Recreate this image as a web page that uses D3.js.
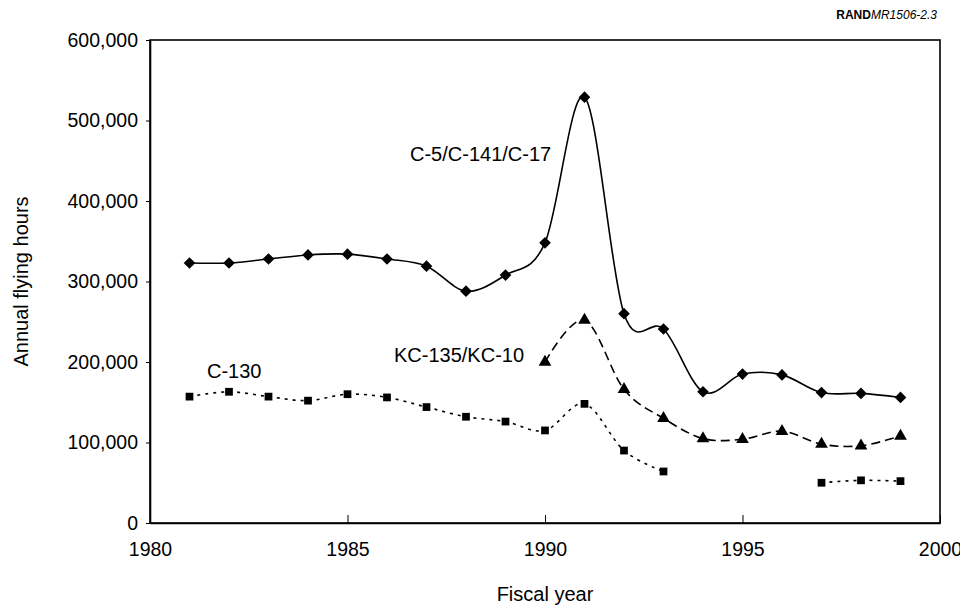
<!DOCTYPE html>
<html>
<head>
<meta charset="utf-8">
<script src="https://cdn.jsdelivr.net/npm/d3@7"></script>
<style>
  body { margin: 0; background: #fff; }
  svg text { font-family: Arial, "Liberation Sans", sans-serif; fill: #000; }
</style>
</head>
<body>
<svg width="960" height="607"></svg>
<script>
// fiscal years 1981..1999
var years = [1981,1982,1983,1984,1985,1986,1987,1988,1989,1990,
             1991,1992,1993,1994,1995,1996,1997,1998,1999];
var c5  = [323000,323000,328000,333000,334000,328000,319000,288000,308000,348000,
           529000,260000,241000,163000,185000,184000,162000,161000,156000];
var kc  = [null,null,null,null,null,null,null,null,null,200000,
           252000,166000,130000,105000,104000,114000,98000,96000,108000];
var c130 = [157000,163000,157000,152000,160000,156000,144000,132000,126000,115000,
            148000,90000,64000,null,null,null,50000,53000,52000];
var yTicks = [0,100000,200000,300000,400000,500000,600000];
var xTicks = [1980,1985,1990,1995,2000];

var svg = d3.select("svg"),
    pL = 150, pR = 940, pT = 40, pB = 523;

var x = d3.scaleLinear().domain([1980, 2000]).range([pL, pR]);
var y = d3.scaleLinear().domain([0, 600000]).range([pB, pT]);

// frame
svg.append("rect")
    .attr("x", pL).attr("y", pT)
    .attr("width", pR - pL).attr("height", pB - pT)
    .attr("fill", "none").attr("stroke", "#000").attr("stroke-width", 1.6);

var yAxis = svg.append("g")
    .attr("transform", "translate(" + pL + ",0)")
    .call(d3.axisLeft(y).tickValues(yTicks).tickFormat(d3.format(","))
        .tickSize(4).tickSizeOuter(0).tickPadding(8));
var xAxis = svg.append("g")
    .attr("transform", "translate(0," + pB + ")")
    .call(d3.axisBottom(x).tickValues(xTicks).tickFormat(d3.format("d"))
        .tickSize(-8).tickSizeOuter(0).tickPadding(19));
[yAxis, xAxis].forEach(function(g) {
  g.select(".domain").attr("stroke-width", 1.6);
  g.selectAll(".tick line").attr("stroke-width", 1);
  g.selectAll("text").style("font-size", "19.5px");
});

var curve = d3.curveCatmullRom.alpha(0);
function lineFor(vals) {
  return d3.line()
    .defined(function(d, i) { return vals[i] != null; })
    .x(function(d, i) { return x(years[i]); })
    .y(function(d, i) { return y(vals[i]); })
    .curve(curve)(vals);
}

// diamonds are squares turned 45 degrees
var series = [
  {vals: c5,   dash: null,  sym: d3.symbolSquare,   size: 68, rot: 45},
  {vals: kc,   dash: "9,5", sym: d3.symbolTriangle, size: 70, rot: 0},
  {vals: c130, dash: "3,5", sym: d3.symbolSquare,   size: 60, rot: 0}
];

series.forEach(function(s) {
  svg.append("path")
      .attr("d", lineFor(s.vals))
      .attr("fill", "none")
      .attr("stroke", "#000")
      .attr("stroke-width", 1.6)
      .attr("stroke-dasharray", s.dash);
  svg.append("g").selectAll("path")
    .data(years.filter(function(d, i) { return s.vals[i] != null; }))
    .enter().append("path")
      .attr("d", d3.symbol().type(s.sym).size(s.size))
      .attr("transform", function(d) {
        var v = s.vals[years.indexOf(d)];
        return "translate(" + x(d) + "," + y(v) + ") rotate(" + s.rot + ")";
      })
      .attr("fill", "#000");
});

// series labels
svg.append("text").attr("x", 410).attr("y", 161).style("font-size", "20px").text("C-5/C-141/C-17");
svg.append("text").attr("x", 394).attr("y", 362).style("font-size", "20px").text("KC-135/KC-10");
svg.append("text").attr("x", 207).attr("y", 378).style("font-size", "20px").text("C-130");

// axis titles
svg.append("text")
    .attr("x", x(1990)).attr("y", 601)
    .attr("text-anchor", "middle")
    .style("font-size", "20px")
    .text("Fiscal year");
svg.append("text")
    .attr("transform", "translate(28," + ((pT + pB) / 2) + ") rotate(-90)")
    .attr("text-anchor", "middle")
    .style("font-size", "20px")
    .text("Annual flying hours");

var tag = svg.append("text")
    .attr("x", 937).attr("y", 19)
    .attr("text-anchor", "end")
    .style("font-size", "12px");
tag.append("tspan").style("font-weight", "bold").text("RAND");
tag.append("tspan").style("font-style", "italic").text("MR1506-2.3");
</script>
</body>
</html>
